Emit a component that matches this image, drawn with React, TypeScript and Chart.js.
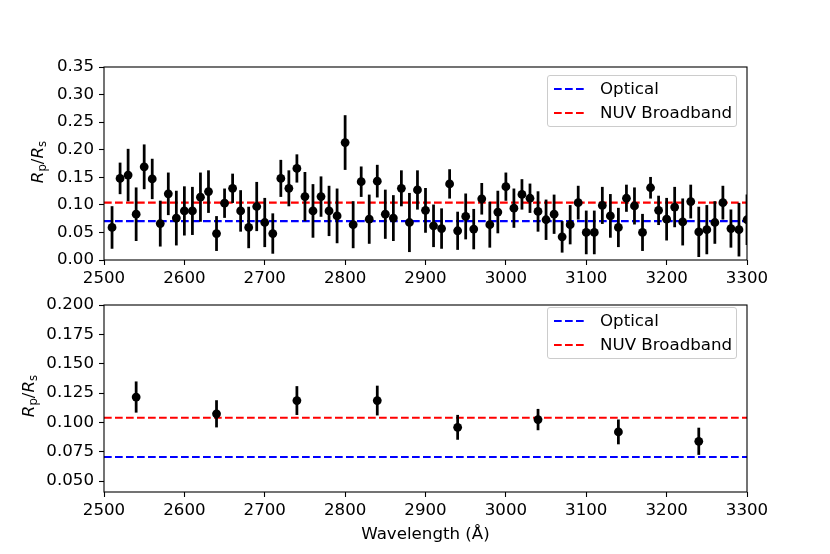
import { useEffect, useRef } from "react";
import { Chart, registerables } from "chart.js";
Chart.register(...registerables);

Chart.defaults.font.family = "'DejaVu Sans', sans-serif";
Chart.defaults.font.size = 16.67;
Chart.defaults.color = "#000";

// top panel: 10 Å bins
const topWavelengths = [
  2510, 2520, 2530, 2540, 2550, 2560, 2570, 2580, 2590, 2600,
  2610, 2620, 2630, 2640, 2650, 2660, 2670, 2680, 2690, 2700,
  2710, 2720, 2730, 2740, 2750, 2760, 2770, 2780, 2790, 2800,
  2810, 2820, 2830, 2840, 2850, 2860, 2870, 2880, 2890, 2900,
  2910, 2920, 2930, 2940, 2950, 2960, 2970, 2980, 2990, 3000,
  3010, 3020, 3030, 3040, 3050, 3060, 3070, 3080, 3090, 3100,
  3110, 3120, 3130, 3140, 3150, 3160, 3170, 3180, 3190, 3200,
  3210, 3220, 3230, 3240, 3250, 3260, 3270, 3280, 3290, 3300,
];
const topRatio = [
  0.059, 0.148, 0.154, 0.083, 0.169, 0.147, 0.066, 0.12, 0.076, 0.089,
  0.089, 0.114, 0.124, 0.048, 0.103, 0.13, 0.089, 0.059, 0.097, 0.068,
  0.048, 0.148, 0.13, 0.166, 0.115, 0.089, 0.115, 0.089, 0.08, 0.213,
  0.064, 0.142, 0.074, 0.143, 0.083, 0.076, 0.13, 0.068, 0.127, 0.09,
  0.062, 0.057, 0.138, 0.053, 0.079, 0.056, 0.111, 0.064, 0.087, 0.133,
  0.094, 0.119, 0.112, 0.088, 0.073, 0.083, 0.042, 0.064, 0.104, 0.05,
  0.05, 0.099, 0.08, 0.059, 0.112, 0.098, 0.05, 0.131, 0.09, 0.074,
  0.096, 0.069, 0.106, 0.051, 0.055, 0.068, 0.104, 0.057, 0.055, 0.073,
];
const topError = [
  0.038, 0.028, 0.047, 0.048, 0.04, 0.036, 0.041, 0.038, 0.049, 0.044,
  0.043, 0.044, 0.038, 0.031, 0.026, 0.026, 0.037, 0.037, 0.044, 0.044,
  0.036, 0.033, 0.032, 0.025, 0.044, 0.048, 0.036, 0.045, 0.049, 0.049,
  0.042, 0.027, 0.044, 0.029, 0.044, 0.041, 0.032, 0.053, 0.035, 0.04,
  0.038, 0.036, 0.026, 0.034, 0.041, 0.036, 0.028, 0.041, 0.038, 0.025,
  0.035, 0.027, 0.026, 0.036, 0.036, 0.035, 0.028, 0.035, 0.03, 0.039,
  0.039, 0.033, 0.039, 0.035, 0.024, 0.033, 0.033, 0.019, 0.026, 0.038,
  0.036, 0.042, 0.03, 0.045, 0.044, 0.038, 0.03, 0.034, 0.048, 0.045,
];

// bottom panel: 100 Å bins
const bottomWavelengths = [2540, 2640, 2740, 2840, 2940, 3040, 3140, 3240];
const bottomRatio = [0.1216, 0.1073, 0.1186, 0.1186, 0.0958, 0.1024, 0.0919, 0.0839];
const bottomError = [0.013, 0.0113, 0.012, 0.0124, 0.0103, 0.0088, 0.0103, 0.0113];

const opticalLevel = 0.0705;
const nuvLevel = 0.104;

const xTicks = [2500, 2600, 2700, 2800, 2900, 3000, 3100, 3200, 3300];
const topYTicks = [0, 0.05, 0.1, 0.15, 0.2, 0.25, 0.3, 0.35];
const bottomYTicks = [0.05, 0.075, 0.1, 0.125, 0.15, 0.175, 0.2];

const frame = {
  id: "frame",
  afterDatasetsDraw(chart: Chart) {
    const { ctx, chartArea } = chart;
    ctx.save();
    ctx.strokeStyle = "#000";
    ctx.lineWidth = 1.1;
    ctx.strokeRect(chartArea.left, chartArea.top, chartArea.right - chartArea.left, chartArea.bottom - chartArea.top);
    ctx.restore();
  },
};

interface PanelProps {
  xs: number[];
  ys: number[];
  errs: number[];
  yMin: number;
  yMax: number;
  yTicks: number[];
  decimals: number;
  height: number;
  padTop: number;
  xAxisHeight: number;
  xTitle?: string;
}

const Panel = ({ xs, ys, errs, yMin, yMax, yTicks, decimals, height, padTop, xAxisHeight, xTitle }: PanelProps) => {
  const canvasRef = useRef<HTMLCanvasElement>(null);

  useEffect(() => {
    if (!canvasRef.current) return;
    const hline = (level: number, color: string, label: string) => ({
      type: "line" as const,
      label,
      data: [
        { x: 2500, y: level },
        { x: 3300, y: level },
      ],
      borderColor: color,
      borderWidth: 2.1,
      borderDash: [7.7, 3.3],
      pointRadius: 0,
      fill: false,
      order: 3,
      clip: 0,
    });

    const chart = new Chart(canvasRef.current, {
      type: "scatter",
      data: {
        datasets: [
          {
            type: "scatter",
            data: xs.map((x, i) => ({ x, y: ys[i] })),
            backgroundColor: "#000",
            borderWidth: 0,
            pointRadius: 4.4,
            order: 1,
            clip: 0,
          },
          {
            type: "bar",
            data: xs.map((x, i) => ({ x, y: [ys[i] - errs[i], ys[i] + errs[i]] })),
            backgroundColor: "#000",
            borderWidth: 0,
            barThickness: 2.1,
            order: 2,
            clip: 0,
          } as any,
          hline(opticalLevel, "#0000ff", "Optical"),
          hline(nuvLevel, "#ff0000", "NUV Broadband"),
        ],
      },
      options: {
        animation: false,
        responsive: true,
        maintainAspectRatio: false,
        layout: { padding: { top: padTop, right: 83, left: 0, bottom: 0 } },
        plugins: { legend: { display: false }, tooltip: { enabled: false } },
        scales: {
          x: {
            type: "linear",
            offset: false,
            min: 2500,
            max: 3300,
            afterBuildTicks: (s) => {
              s.ticks = xTicks.map((v) => ({ value: v }));
            },
            afterFit: (s) => {
              s.height = xAxisHeight;
            },
            grid: {
              offset: false,
              drawOnChartArea: false,
              drawTicks: true,
              tickLength: 5,
              tickWidth: 1.1,
              tickColor: "#000",
            },
            border: { display: false },
            ticks: { padding: 4, color: "#000", maxRotation: 0, callback: (v) => String(v) },
            title: xTitle
              ? { display: true, text: xTitle, color: "#000", font: { size: 16.67, lineHeight: 1.2 }, padding: { top: 0, bottom: 9 } }
              : { display: false },
          },
          y: {
            type: "linear",
            min: yMin,
            max: yMax,
            afterBuildTicks: (s) => {
              s.ticks = yTicks.map((v) => ({ value: v }));
            },
            afterFit: (s) => {
              s.width = 104;
            },
            grid: {
              offset: false,
              drawOnChartArea: false,
              drawTicks: true,
              tickLength: 5,
              tickWidth: 1.1,
              tickColor: "#000",
            },
            border: { display: false },
            ticks: { padding: 5, color: "#000", callback: (v) => Number(v).toFixed(decimals) },
          },
        },
      },
      plugins: [frame],
    });

    return () => {
      chart.destroy();
    };
  }, [xs, ys, errs, yMin, yMax, yTicks, decimals, padTop, xAxisHeight, xTitle]);

  return (
    <div style={{ position: "relative", width: 830, height }}>
      <canvas ref={canvasRef} />
    </div>
  );
};

const Legend = ({ top }: { top: number }) => {
  const rows = [
    { label: "Optical", color: "#0000ff" },
    { label: "NUV Broadband", color: "#ff0000" },
  ];
  return (
    <div
      style={{
        position: "absolute",
        left: 547,
        top,
        width: 190,
        height: 52,
        border: "1px solid #cccccc",
        borderRadius: 3,
        background: "rgba(255,255,255,0.8)",
        boxSizing: "border-box",
      }}
    >
      {rows.map((r, i) => (
        <div
          key={r.label}
          style={{
            position: "absolute",
            left: 0,
            top: 13 + i * 23.5 - 11,
            height: 22,
            display: "flex",
            alignItems: "center",
            whiteSpace: "nowrap",
          }}
        >
          <svg width={52} height={22} style={{ display: "block" }}>
            <line x1={6} x2={39} y1={11} y2={11} stroke={r.color} strokeWidth={2.1} strokeDasharray="7.7 3.3" />
          </svg>
          <span style={{ fontSize: 16.67, lineHeight: "22px" }}>{r.label}</span>
        </div>
      ))}
    </div>
  );
};

const YLabel = ({ cx, cy }: { cx: number; cy: number }) => (
  <div
    style={{
      position: "absolute",
      left: cx,
      top: cy,
      transform: "translate(-50%, -50%) rotate(-90deg)",
      fontSize: 16.67,
      whiteSpace: "nowrap",
      lineHeight: "20px",
    }}
  >
    <i>R</i>
    <sub style={{ fontSize: "70%", verticalAlign: "-0.3em" }}>p</sub>/<i>R</i>
    <sub style={{ fontSize: "70%", verticalAlign: "-0.3em" }}>s</sub>
  </div>
);

export default function App() {
  return (
    <div
      style={{
        position: "absolute",
        left: 0,
        top: 0,
        width: 830,
        height: 554,
        background: "#fff",
        fontFamily: "'DejaVu Sans', sans-serif",
        color: "#000",
        overflow: "hidden",
      }}
    >
      <div style={{ position: "absolute", left: 0, top: 0 }}>
        <Panel
          xs={topWavelengths}
          ys={topRatio}
          errs={topError}
          yMin={0}
          yMax={0.35}
          yTicks={topYTicks}
          decimals={2}
          height={290}
          padTop={67}
          xAxisHeight={30}
        />
      </div>
      <div style={{ position: "absolute", left: 0, top: 290 }}>
        <Panel
          xs={bottomWavelengths}
          ys={bottomRatio}
          errs={bottomError}
          yMin={0.0407}
          yMax={0.2}
          yTicks={bottomYTicks}
          decimals={3}
          height={264}
          padTop={9}
          xAxisHeight={62}
          xTitle="Wavelength (Å)"
        />
      </div>
      <Legend top={75} />
      <Legend top={307} />
      <YLabel cx={40} cy={162} />
      <YLabel cx={31} cy={396} />
    </div>
  );
}
